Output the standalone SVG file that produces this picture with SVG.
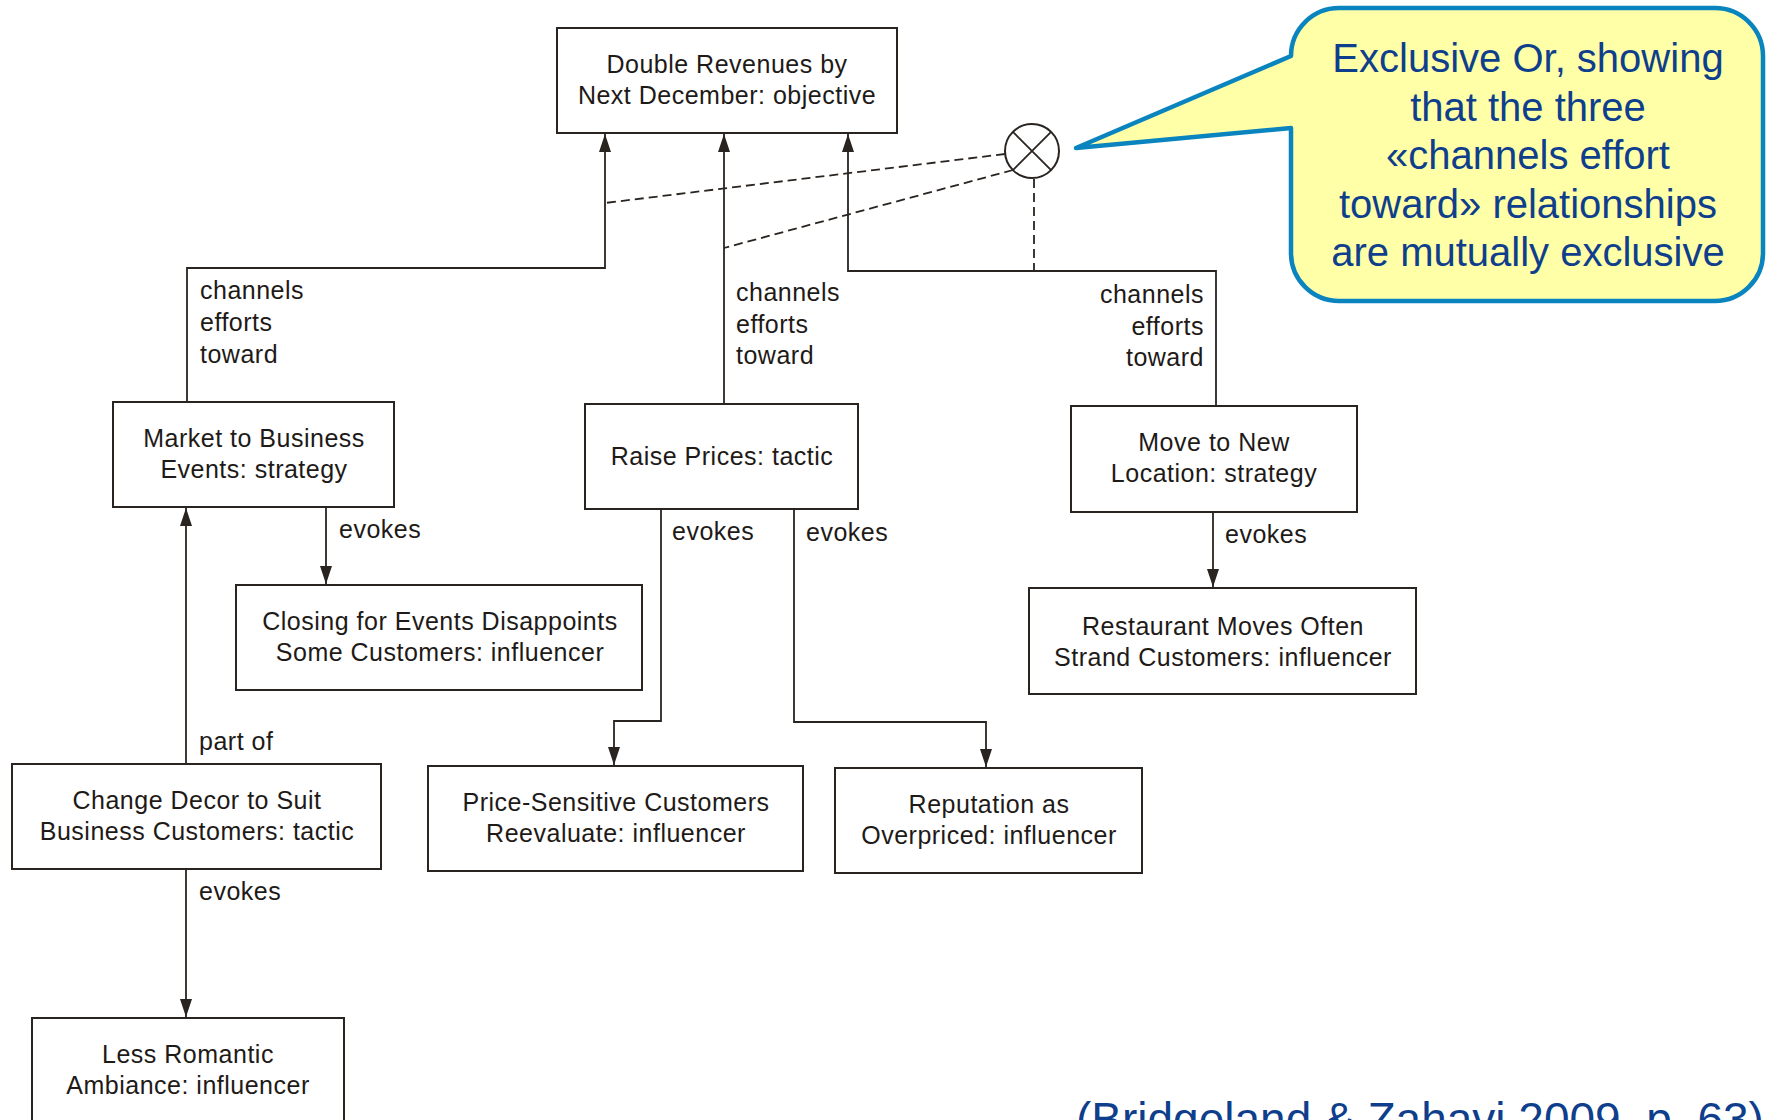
<svg xmlns="http://www.w3.org/2000/svg" width="1771" height="1120" viewBox="0 0 1771 1120">
<style>
.box{fill:#fff;stroke:#2a2420;stroke-width:2}
.t{font-family:"Liberation Sans",Arial,sans-serif;font-size:25px;letter-spacing:0.5px;fill:#1e1a18}
.c{text-anchor:middle}
.e{text-anchor:end}
.ln{fill:none;stroke:#2a2420;stroke-width:1.8}
.dash{fill:none;stroke:#2a2420;stroke-width:1.8;stroke-dasharray:9 5}
.call{font-family:"Liberation Sans",Arial,sans-serif;font-size:40px;fill:#0f3f8c;text-anchor:middle}
</style>
<defs>
<marker id="ah" markerWidth="18" markerHeight="12" refX="18" refY="6" orient="auto" markerUnits="userSpaceOnUse" viewBox="0 0 18 12">
<path d="M0,0 L18,6 L0,12 Z" fill="#2a2420"/>
</marker>
</defs>
<rect width="1771" height="1120" fill="#fff"/>

<g id="connectors">
<path class="ln" d="M187,402 V268 H605 V134" marker-end="url(#ah)"/>
<path class="ln" d="M724,404 V134" marker-end="url(#ah)"/>
<path class="ln" d="M1216,406 V271 H848 V134" marker-end="url(#ah)"/>
<path class="ln" d="M326,507 V584" marker-end="url(#ah)"/>
<path class="ln" d="M661,509 V721 H614 V765" marker-end="url(#ah)"/>
<path class="ln" d="M794,509 V722 H986 V767" marker-end="url(#ah)"/>
<path class="ln" d="M1213,512 V587" marker-end="url(#ah)"/>
<path class="ln" d="M186,764 V508" marker-end="url(#ah)"/>
<path class="ln" d="M186,869 V1017" marker-end="url(#ah)"/>
<path class="dash" d="M1005,154 L605,203"/>
<path class="dash" d="M1013,170 L724,248"/>
<path class="dash" d="M1034,179 V270"/>
<text class="t" x="200" y="299">channels</text>
<text class="t" x="200" y="331">efforts</text>
<text class="t" x="200" y="363">toward</text>
<text class="t" x="736" y="301">channels</text>
<text class="t" x="736" y="333">efforts</text>
<text class="t" x="736" y="364">toward</text>
<text class="t e" x="1204" y="303">channels</text>
<text class="t e" x="1204" y="335">efforts</text>
<text class="t e" x="1204" y="366">toward</text>
<text class="t" x="339" y="538">evokes</text>
<text class="t" x="672" y="540">evokes</text>
<text class="t" x="806" y="541">evokes</text>
<text class="t" x="1225" y="543">evokes</text>
<text class="t" x="199" y="750">part of</text>
<text class="t" x="199" y="900">evokes</text>
</g>

<g id="xor">
<circle cx="1032" cy="151" r="27" fill="#fff" stroke="#2a2420" stroke-width="2"/>
<path class="ln" d="M1012.9,131.9 L1051.1,170.1 M1051.1,131.9 L1012.9,170.1"/>
</g>

<g id="n-double">
<rect class="box" x="557" y="28" width="340" height="105"/>
<text class="t c" x="727" y="73">Double Revenues by</text>
<text class="t c" x="727" y="104">Next December: objective</text>
</g>
<g id="n-market">
<rect class="box" x="113" y="402" width="281" height="105"/>
<text class="t c" x="254" y="447">Market to Business</text>
<text class="t c" x="254" y="478">Events: strategy</text>
</g>
<g id="n-raise">
<rect class="box" x="585" y="404" width="273" height="105"/>
<text class="t c" x="722" y="465">Raise Prices: tactic</text>
</g>
<g id="n-move">
<rect class="box" x="1071" y="406" width="286" height="106"/>
<text class="t c" x="1214" y="451">Move to New</text>
<text class="t c" x="1214" y="482">Location: strategy</text>
</g>
<g id="n-closing">
<rect class="box" x="236" y="585" width="406" height="105"/>
<text class="t c" x="440" y="630">Closing for Events Disappoints</text>
<text class="t c" x="440" y="661">Some Customers: influencer</text>
</g>
<g id="n-restaurant">
<rect class="box" x="1029" y="588" width="387" height="106"/>
<text class="t c" x="1223" y="635">Restaurant Moves Often</text>
<text class="t c" x="1223" y="666">Strand Customers: influencer</text>
</g>
<g id="n-decor">
<rect class="box" x="12" y="764" width="369" height="105"/>
<text class="t c" x="197" y="809">Change Decor to Suit</text>
<text class="t c" x="197" y="840">Business Customers: tactic</text>
</g>
<g id="n-price">
<rect class="box" x="428" y="766" width="375" height="105"/>
<text class="t c" x="616" y="811">Price-Sensitive Customers</text>
<text class="t c" x="616" y="842">Reevaluate: influencer</text>
</g>
<g id="n-reputation">
<rect class="box" x="835" y="768" width="307" height="105"/>
<text class="t c" x="989" y="813">Reputation as</text>
<text class="t c" x="989" y="844">Overpriced: influencer</text>
</g>
<g id="n-romantic">
<rect class="box" x="32" y="1018" width="312" height="110"/>
<text class="t c" x="188" y="1063">Less Romantic</text>
<text class="t c" x="188" y="1094">Ambiance: influencer</text>
</g>

<g id="callout">
<path d="M1339,8 H1715 A48,48 0 0 1 1763,56 V253 A48,48 0 0 1 1715,301 H1339 A48,48 0 0 1 1291,253 V128 L1076,148 L1291,56 A48,48 0 0 1 1339,8 Z" fill="#ffffa8" stroke="#0a84bf" stroke-width="4.5" stroke-linejoin="round"/>
<text class="call" x="1528" y="72">Exclusive Or, showing</text>
<text class="call" x="1528" y="120.5">that the three</text>
<text class="call" x="1528" y="169">«channels effort</text>
<text class="call" x="1528" y="217.5">toward» relationships</text>
<text class="call" x="1528" y="266">are mutually exclusive</text>
</g>

<g id="citation">
<text x="1076" y="1135" font-family="Liberation Sans, Arial, sans-serif" font-size="46" fill="#0f3f8c">(Bridgeland &amp; Zahavi 2009, p. 63)</text>
</g>
</svg>
